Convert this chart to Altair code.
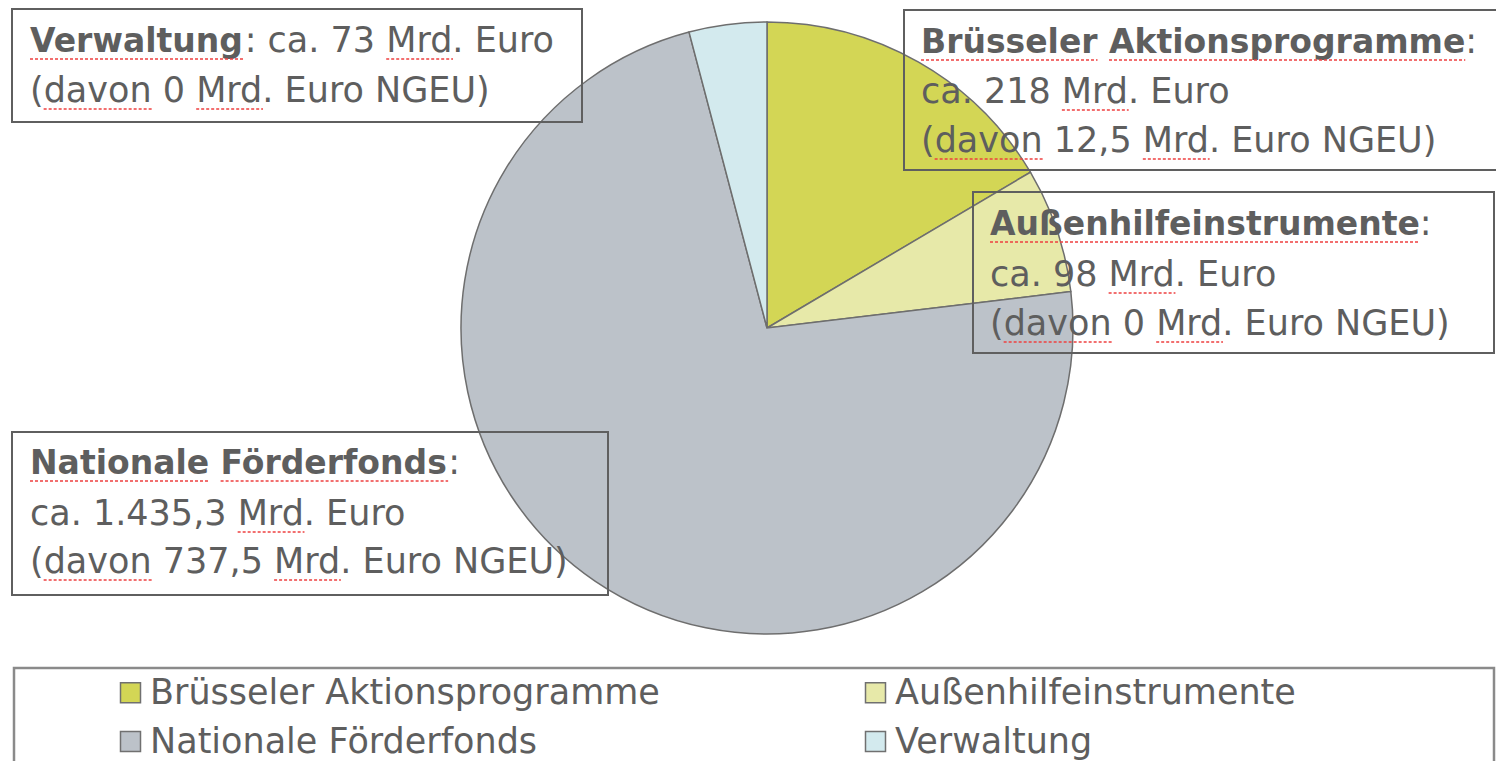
import altair as alt
import pandas as pd

# ---------------- data ----------------
categories = ["Brüsseler Aktionsprogramme", "Außenhilfeinstrumente",
              "Nationale Förderfonds", "Verwaltung"]
# share of the circle (percent) as drawn in the picture
shares = [16.5, 6.6, 72.8, 4.1]
amount_labels = ["218", "98", "1.435,3", "73"]
ngeu_labels = ["12,5", "0", "737,5", "0"]
colors = ["#d3d655", "#e7e9a9", "#bcc2c9", "#d3eaee"]

# ---------------- layout ----------------
OFF = 8
W, H = 1488, 753
TXT = "#5e5e5e"
FONT = "DejaVu Sans"
FS_B, FS_R = 33, 35
CX, CY, R = 767, 328, 306

REG = {" ": .318, "(": .390, ")": .390, ",": .318, ".": .318, ":": .337,
       "A": .684, "B": .686, "E": .632, "F": .575, "G": .776, "M": .863,
       "N": .748, "U": .732, "V": .684, "a": .613, "c": .550, "d": .635,
       "e": .615, "f": .352, "g": .635, "h": .634, "i": .278, "k": .579,
       "l": .278, "m": .974, "n": .634, "o": .612, "p": .635, "r": .411,
       "s": .521, "t": .392, "u": .634, "v": .592, "w": .818, "ü": .634,
       "ö": .612, "ß": .636}
BOLD = {" ": .348, ":": .400, "A": .774, "B": .762, "F": .683, "N": .837,
        "V": .774, "a": .675, "d": .716, "e": .678, "f": .435, "g": .716,
        "h": .712, "i": .343, "k": .665, "l": .343, "m": 1.042, "n": .712,
        "o": .687, "p": .716, "r": .493, "s": .595, "t": .478, "u": .712,
        "w": .924, "ü": .712, "ö": .687, "ß": .711}


def tw(s, bold=False):
    tab, fs = (BOLD, FS_B) if bold else (REG, FS_R)
    return sum(tab.get(ch, .636) for ch in s) * fs


# annotation boxes (page px): box, text x, baselines
boxes = {
    "Brüsseler Aktionsprogramme": ((904, 10, 1520, 170), 921, (53, 103, 152)),
    "Außenhilfeinstrumente": ((973, 192, 1494, 353), 990, (235, 286, 335)),
    "Nationale Förderfonds": ((12, 432, 608, 595), 30, (474, 525, 573)),
    "Verwaltung": ((12, 9, 582, 122), 30, (52, 102)),
}

dummy = pd.DataFrame({"d": [0]})


def text_layer(s, x, y, bold=False):
    return alt.Chart(dummy).mark_text(
        text=s, align="left", baseline="alphabetic", font=FONT,
        fontSize=FS_B if bold else FS_R,
        fontWeight="bold" if bold else "normal", color=TXT,
    ).encode(x=alt.value(x - OFF), y=alt.value(y - OFF))


def rect_layer(x1, y1, x2, y2, stroke="#5f5f5f", sw=2):
    return alt.Chart(dummy).mark_rect(
        fillOpacity=0, stroke=stroke, strokeWidth=sw
    ).encode(x=alt.value(x1 - OFF), x2=alt.value(x2 - OFF),
             y=alt.value(y1 - OFF), y2=alt.value(y2 - OFF))


def squiggle(x, y, width):
    return alt.Chart(dummy).mark_rule(
        color="#ee4040", strokeWidth=1.6, strokeDash=[3, 2]
    ).encode(x=alt.value(x - OFF), x2=alt.value(x + width - OFF),
             y=alt.value(y + 7 - OFF))


# ---------------- pie ----------------
pie_df = pd.DataFrame({"cat": categories, "share": shares,
                       "idx": list(range(len(categories)))})

pie = alt.Chart(pie_df).mark_arc(
    outerRadius=R, stroke="#6e6e6e", strokeWidth=1.5
).encode(
    theta=alt.Theta("share:Q", stack=True),
    color=alt.Color(
        "cat:N",
        scale=alt.Scale(domain=categories, range=colors),
        legend=alt.Legend(
            title=None, orient="none", direction="horizontal",
            legendX=113 - OFF, legendY=675 - OFF,
            columns=2, columnPadding=198, rowPadding=13,
            symbolType="square", symbolSize=400,
            symbolStrokeColor="#707070", symbolStrokeWidth=1.5,
            labelFont=FONT, labelFontSize=FS_R, labelColor=TXT,
            labelLimit=1000, labelOffset=2, padding=0,
        ),
    ),
    order=alt.Order("idx:Q"),
    x=alt.value(CX - OFF),
    y=alt.value(CY - OFF),
)

layers = [pie]

for cat, amt, ng in zip(categories, amount_labels, ngeu_labels):
    (x1, y1, x2, y2), tx, bl = boxes[cat]
    layers.append(rect_layer(x1, y1, x2, y2))
    # bold title
    layers.append(text_layer(cat, tx, bl[0], bold=True))
    # underline each title word
    pos = tx
    for word in cat.split(" "):
        layers.append(squiggle(pos, bl[0], tw(word, True)))
        pos += tw(word + " ", True)
    tend = tx + tw(cat, True)
    ngeu_line = f"(davon {ng} Mrd. Euro NGEU)"
    if len(bl) == 2:
        suffix = f": ca. {amt} Mrd. Euro"
        layers.append(text_layer(suffix, tend, bl[0]))
        layers.append(squiggle(tend + tw(f": ca. {amt} "), bl[0], tw("Mrd")))
        ng_y = bl[1]
    else:
        layers.append(text_layer(":", tend, bl[0]))
        line2 = f"ca. {amt} Mrd. Euro"
        layers.append(text_layer(line2, tx, bl[1]))
        layers.append(squiggle(tx + tw(f"ca. {amt} "), bl[1], tw("Mrd")))
        ng_y = bl[2]
    layers.append(text_layer(ngeu_line, tx, ng_y))
    layers.append(squiggle(tx + tw("("), ng_y, tw("davon")))
    layers.append(squiggle(tx + tw(f"(davon {ng} "), ng_y, tw("Mrd")))

# legend frame
layers.append(rect_layer(14, 668, 1494, 800, stroke="#8a8a8a", sw=2.5))

chart = alt.layer(*layers).properties(
    width=W, height=H, padding=0,
    autosize=alt.AutoSizeParams(type="none"),
    background="white",
).configure_view(stroke=None)

chart.save("out.html", embed_options={"renderer": "svg", "actions": False})
